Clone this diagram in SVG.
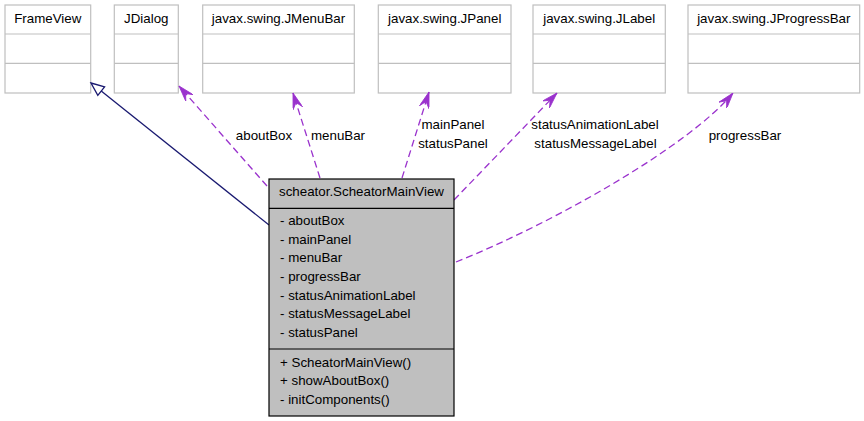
<svg xmlns="http://www.w3.org/2000/svg" width="864" height="421" viewBox="0 0 864 421">
<style>
text{font-family:"Liberation Sans",Arial,sans-serif;font-size:13.33px;fill:#000}
.c{text-anchor:middle}
.cls rect,.cls line{fill:#fff;stroke:#bfbfbf;stroke-width:1.2}
.main rect{fill:#bfbfbf;stroke:#000;stroke-width:1.2}
.main line{stroke:#000;stroke-width:1.2}
.dep{fill:none;stroke:#9a32cd;stroke-width:1.3;stroke-dasharray:7,4}
.gen{fill:none;stroke:#191970;stroke-width:1.3}
</style>
<defs>
<marker id="vee" markerUnits="userSpaceOnUse" viewBox="0 0 16 10" markerWidth="16" markerHeight="10" refX="16" refY="5" orient="auto">
<path d="M16,5 L0,0 L6,5 L0,10 Z" fill="#9a32cd" stroke="#9a32cd" stroke-width="0.8"/>
</marker>
</defs>
<rect width="864" height="421" fill="#fff"/>
<g id="FrameView" class="cls">
<rect x="5" y="5" width="85.7" height="88"/>
<line x1="5" y1="34" x2="90.7" y2="34"/><line x1="5" y1="63.3" x2="90.7" y2="63.3"/>
<text class="c" x="47.8" y="23">FrameView</text>
</g>
<g id="JDialog" class="cls">
<rect x="114.3" y="5" width="64" height="88"/>
<line x1="114.3" y1="34" x2="178.3" y2="34"/><line x1="114.3" y1="63.3" x2="178.3" y2="63.3"/>
<text class="c" x="146.3" y="23">JDialog</text>
</g>
<g id="JMenuBar" class="cls">
<rect x="202.7" y="5" width="151.6" height="88"/>
<line x1="202.7" y1="34" x2="354.3" y2="34"/><line x1="202.7" y1="63.3" x2="354.3" y2="63.3"/>
<text class="c" x="278.5" y="23">javax.swing.JMenuBar</text>
</g>
<g id="JPanel" class="cls">
<rect x="378.3" y="5" width="132.7" height="88"/>
<line x1="378.3" y1="34" x2="511" y2="34"/><line x1="378.3" y1="63.3" x2="511" y2="63.3"/>
<text class="c" x="444.7" y="23">javax.swing.JPanel</text>
</g>
<g id="JLabel" class="cls">
<rect x="533" y="5" width="132.3" height="88"/>
<line x1="533" y1="34" x2="665.3" y2="34"/><line x1="533" y1="63.3" x2="665.3" y2="63.3"/>
<text class="c" x="599.2" y="23">javax.swing.JLabel</text>
</g>
<g id="JProgressBar" class="cls">
<rect x="688" y="5" width="171.7" height="88"/>
<line x1="688" y1="34" x2="859.7" y2="34"/><line x1="688" y1="63.3" x2="859.7" y2="63.3"/>
<text class="c" x="773.8" y="23">javax.swing.JProgressBar</text>
</g>
<g id="connectors">
<path class="gen" d="M269,225 L101.2,91.1"/>
<polygon points="91,83 104.6,86.8 97.8,95.4" fill="#fff" stroke="#191970" stroke-width="1.3"/>
<path class="dep" d="M267,186 L179,86" marker-end="url(#vee)"/>
<path class="dep" d="M320,178 L293,93" marker-end="url(#vee)"/>
<path class="dep" d="M402,178 L429,92" marker-end="url(#vee)"/>
<path class="dep" d="M454,200 L557,93" marker-end="url(#vee)"/>
<path class="dep" d="M456,262 C556,222 690,145 733,93" marker-end="url(#vee)"/>
<text class="c" x="264" y="139.5">aboutBox</text>
<text class="c" x="338" y="139.5">menuBar</text>
<text class="c" x="453" y="129">mainPanel</text>
<text class="c" x="453" y="148">statusPanel</text>
<text class="c" x="595" y="129">statusAnimationLabel</text>
<text class="c" x="595.5" y="148">statusMessageLabel</text>
<text class="c" x="745" y="139.5">progressBar</text>
</g>
<g id="ScheatorMainView" class="main">
<rect x="269" y="179" width="185" height="237"/>
<line x1="269" y1="208.3" x2="454" y2="208.3"/>
<line x1="269" y1="349" x2="454" y2="349"/>
<text class="c" x="361.5" y="196">scheator.ScheatorMainView</text>
<text x="280" y="225">- aboutBox</text>
<text x="280" y="243.7">- mainPanel</text>
<text x="280" y="262.3">- menuBar</text>
<text x="280" y="281">- progressBar</text>
<text x="280" y="299.7">- statusAnimationLabel</text>
<text x="280" y="318.3">- statusMessageLabel</text>
<text x="280" y="337">- statusPanel</text>
<text x="280" y="366.5">+ ScheatorMainView()</text>
<text x="280" y="385">+ showAboutBox()</text>
<text x="280" y="403.5">- initComponents()</text>
</g>
</svg>
